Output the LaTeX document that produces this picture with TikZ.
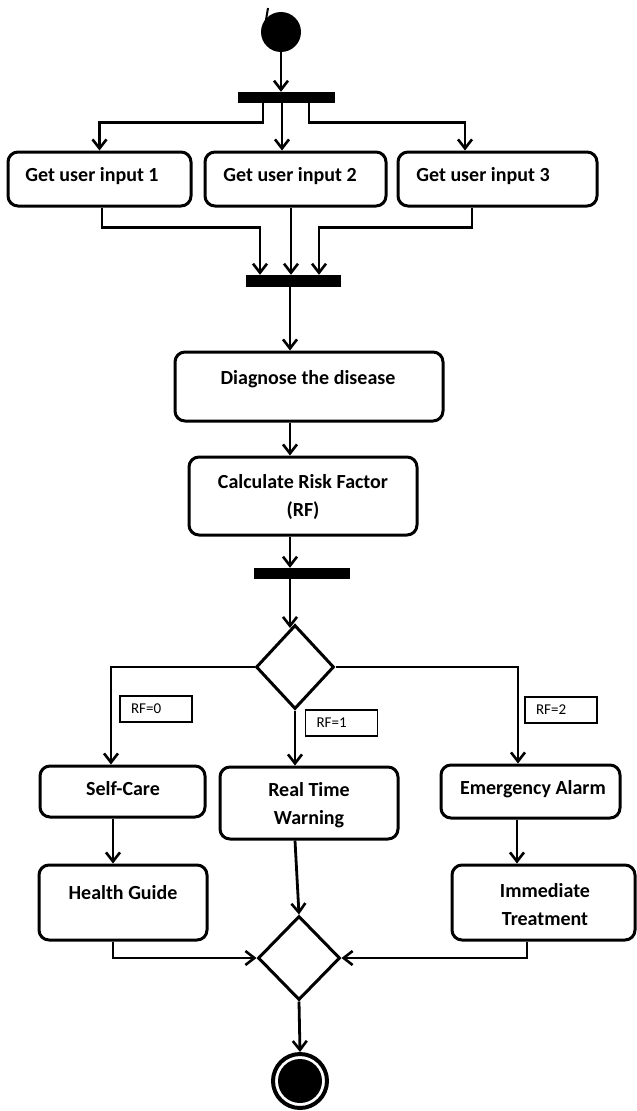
\documentclass[tikz,border=0pt]{standalone}
\usepackage{fontspec}
\setmainfont{Carlito}
\usetikzlibrary{arrows.meta,shapes.geometric,calc}
\tikzset{
  act/.style={draw, line width=3pt, rounded corners=10pt, inner sep=0pt},
  txt/.style={font=\bfseries\fontsize{20}{28}\selectfont, align=center, inner sep=0pt},
  bar/.style={fill=black, inner sep=0pt},
  conn/.style={line width=2.8pt, -{Straight Barb[length=9pt,width=14pt,line width=2.6pt]}},
  guard/.style={draw, line width=1.4pt, inner xsep=11pt, inner ysep=0pt, minimum height=26pt, text width=50pt, align=left, font=\fontsize{15}{16}\selectfont},
  dec/.style={draw, diamond, line width=3pt, inner sep=0pt},
}
\begin{document}
\begin{tikzpicture}[x=1pt,y=-1pt]
\useasboundingbox (0,0) rectangle (637,1111);
% start
\node[circle, fill=black, minimum size=40pt, inner sep=0pt] (start) at (281,32) {};
\coordinate (tickA) at (268,8);
\coordinate (tickB) at (266,20);
\draw[line width=2pt] (tickA) -- (tickB);
% fork bar 1
\node[bar, minimum width=97pt, minimum height=11pt] (bar1) at (286.5,97.5) {};
\draw[conn] (start.south) -- (start.south |- bar1.north);
% input boxes
\node[act, minimum width=183pt, minimum height=54pt] (in1) at (99.5,179) {};
\node[act, minimum width=181pt, minimum height=54pt] (in2) at (295.5,179) {};
\node[act, minimum width=199pt, minimum height=54pt] (in3) at (497.5,179) {};
\node[txt] (t1) at (92,176) {Get user input 1};
\node[txt] (t2) at (290,176) {Get user input 2};
\node[txt] (t3) at (483,176) {Get user input 3};
\draw[conn] (263,0 |- bar1.south) -- ++(0,19) -| (in1.north);
\draw[conn] (282,0 |- bar1.south) -- (282,0 |- in2.north);
\draw[conn] (309,0 |- bar1.south) -- ++(0,19) -| (465,0 |- in3.north);
% join bar 2
\node[bar, minimum width=95pt, minimum height=12pt] (bar2) at (293.5,281) {};
\draw[conn] (102,0 |- in1.south) -- ++(0,20) -| (260,0 |- bar2.north);
\draw[conn] (291,0 |- in2.south) -- (291,0 |- bar2.north);
\draw[conn] (472,0 |- in3.south) -- ++(0,20) -| (319,0 |- bar2.north);
% diagnose
\node[act, minimum width=268pt, minimum height=69pt] (diag) at (309,386.5) {};
\node[txt] (td) at (308,379) {Diagnose the disease};
\draw[conn] (290,0 |- bar2.south) -- (290,0 |- diag.north);
% calculate
\node[act, minimum width=228pt, minimum height=78pt] (calc) at (303,496) {};
\node[txt] (tc) at (303,497) {Calculate Risk Factor\\(RF)};
\draw[conn] (290,0 |- diag.south) -- (290,0 |- calc.north);
% bar 3
\node[bar, minimum width=96pt, minimum height=11pt] (bar3) at (302,573.5) {};
\draw[conn] (290,0 |- calc.south) -- (290,0 |- bar3.north);
% decision 1
\node[dec, minimum width=78pt, minimum height=84pt] (dec1) at (295,667) {};
\draw[conn] (290,0 |- bar3.south) -- (290,628);
% second row
\node[act, minimum width=165pt, minimum height=51pt] (sc) at (122.5,791.5) {};
\node[txt] (tsc) at (123,789) {Self-Care};
\node[act, minimum width=178pt, minimum height=72pt] (rtw) at (309,803) {};
\node[txt] (trtw) at (309,805) {Real Time\\Warning};
\node[act, minimum width=179pt, minimum height=53pt] (ea) at (530.5,791.5) {};
\node[txt] (tea) at (533,789) {Emergency Alarm};
\draw[conn] (dec1.west) -| (111,0 |- sc.north);
\draw[conn] (dec1.south) -- (dec1.south |- rtw.north);
\draw[conn] (dec1.east) -| (518,0 |- ea.north);
% guards
\node[guard] (g0) at (156,709) {RF=0};
\node[guard] (g1) at (341.5,723) {RF=1};
\node[guard] (g2) at (561,710) {RF=2};
% third row
\node[act, minimum width=168pt, minimum height=75pt] (hg) at (123,902.5) {};
\node[txt] (thg) at (123,893) {Health Guide};
\node[act, minimum width=183pt, minimum height=75pt] (it) at (543.5,902.5) {};
\node[txt] (tit) at (545,905) {Immediate\\Treatment};
\draw[conn] (113,0 |- sc.south) -- (113,0 |- hg.north);
\draw[conn] (517,0 |- ea.south) -- (517,0 |- it.north);
% merge
\node[dec, minimum width=82pt, minimum height=84pt] (dec2) at (299,958) {};
\draw[conn] (113,0 |- hg.south) |- (dec2.west);
\draw[conn] (527,0 |- it.south) |- (dec2.east);
\draw[conn] (295,0 |- rtw.south) -- (dec2.north);
% end
\node[circle, draw, line width=4pt, minimum size=54pt, inner sep=0pt] (end) at (300,1081) {};
\node[circle, fill=black, minimum size=44pt, inner sep=0pt] (endin) at (end.center) {};
\draw[conn] (dec2.south) -- (end.north);
\end{tikzpicture}
\end{document}
